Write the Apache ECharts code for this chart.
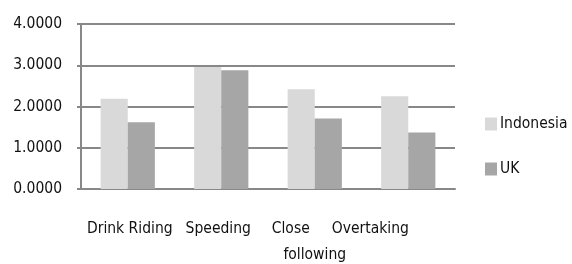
<!DOCTYPE html>
<html>
<head>
<meta charset="utf-8">
<script src="https://cdn.jsdelivr.net/npm/echarts@6/dist/echarts.min.js"></script>
<style>
  html, body { margin: 0; padding: 0; background: #fff; }
</style>
</head>
<body>
<!-- 图表容器 -->
<div id="main" style="width: 572px; height: 264px"></div>
<script>
// 数据
var categories = ['Drink Riding', 'Speeding', 'Close following', 'Overtaking'];
var indonesia = [2.19, 2.96, 2.42, 2.25];
var uk = [1.62, 2.88, 1.71, 1.37];
var yTicks = [0, 1, 2, 3, 4];

// x 轴标签的水平偏移（参考图里标签没有正好居中）
var labelShift = {
  'Drink Riding': 2,
  'Speeding': -3,
  'Close following': -24,
  'Overtaking': -38
};

var font = '"Liberation Sans Narrow", "DejaVu Sans Condensed", sans-serif';
var fs = 15.5;
var myChart = echarts.init(document.getElementById('main'));

var rich = {};
categories.forEach(function (c, i) {
  var s = labelShift[c] || 0;
  rich['c' + i] = {
    fontFamily: font, fontSize: fs, color: '#111',
    padding: s < 0 ? [0, -2 * s, 0, 0] : [0, 0, 0, 2 * s]
  };
});

var option = {
  animation: false,
  grid: { left: 81, right: 117, top: 24, bottom: 75, outerBoundsMode: 'none' },
  legend: {
    orient: 'vertical',
    left: 485,
    top: 116,
    padding: 0,
    itemWidth: 12,
    itemHeight: 13,
    itemGap: 29,
    icon: 'rect',
    textStyle: { fontFamily: font, fontSize: fs, color: '#111', padding: [0, 0, 0, -2] },
    data: ['Indonesia', 'UK']
  },
  xAxis: {
    type: 'category',
    data: categories,
    axisLine: { lineStyle: { color: '#888', width: 2 } },
    axisTick: { length: 7, lineStyle: { color: '#888', width: 2 } },
    axisLabel: {
      margin: 27,
      interval: 0,
      lineHeight: 26,
      fontFamily: font,
      fontSize: fs,
      color: '#111',
      formatter: function (v) {
        var i = categories.indexOf(v);
        if (v === 'Close following') {
          return '{c' + i + '|Close}\nfollowing';
        }
        return '{c' + i + '|' + v + '}';
      },
      rich: rich
    }
  },
  yAxis: {
    type: 'value',
    min: yTicks[0],
    max: yTicks[yTicks.length - 1],
    interval: 1,
    axisLine: { show: true, lineStyle: { color: '#888', width: 2 } },
    axisTick: { show: true, length: 4, lineStyle: { color: '#888', width: 2 } },
    splitLine: { lineStyle: { color: '#888', width: 2 } },
    axisLabel: {
      margin: 19,
      fontFamily: font,
      fontSize: fs,
      color: '#111',
      formatter: function (v) { return v.toFixed(4); }
    }
  },
  series: [
    {
      name: 'Indonesia',
      type: 'bar',
      data: indonesia,
      barGap: '0%',
      barCategoryGap: '42%',
      itemStyle: { color: '#d9d9d9' }
    },
    {
      name: 'UK',
      type: 'bar',
      data: uk,
      itemStyle: { color: '#a6a6a6' }
    }
  ]
};

myChart.setOption(option);
</script>
</body>
</html>
